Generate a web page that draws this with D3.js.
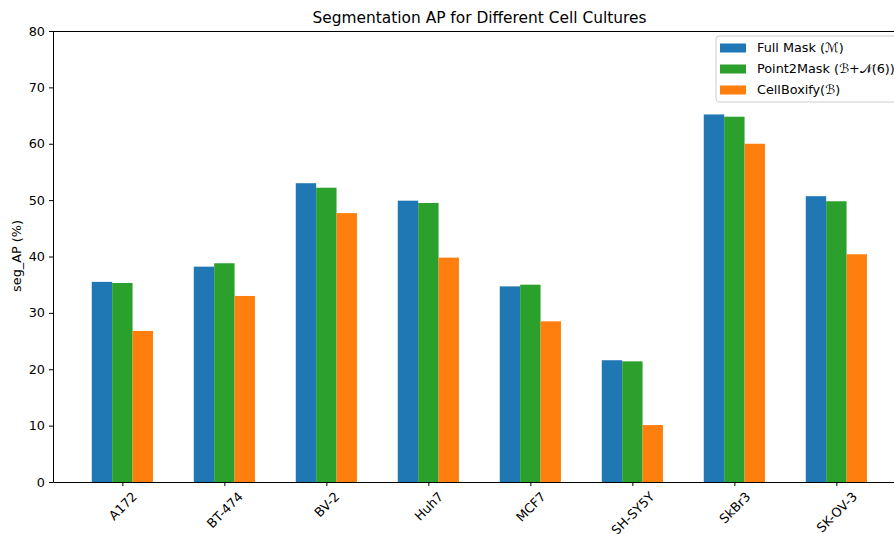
<!DOCTYPE html>
<html>
<head>
<meta charset="utf-8">
<script src="https://cdn.jsdelivr.net/npm/d3@7"></script>
<style>
  body { margin: 0; background: #fff; }
  svg { display: block; font-family: "DejaVu Sans", sans-serif; }
</style>
</head>
<body>
<svg id="chart" width="894" height="534"></svg>
<script>
// Cell cultures on the x axis
const cultures = ["A172", "BT-474", "BV-2", "Huh7", "MCF7", "SH-SY5Y", "SkBr3", "SK-OV-3"];
// Segmentation AP (%) for each training supervision
const fullMask   = [35.5, 38.2, 53.0, 49.9, 34.7, 21.6, 65.2, 50.7];
const point2Mask = [35.3, 38.8, 52.2, 49.5, 35.0, 21.4, 64.8, 49.8];
const cellBoxify = [26.8, 33.0, 47.7, 39.8, 28.5, 10.1, 60.0, 40.4];
const yTicks = [0, 10, 20, 30, 40, 50, 60, 70, 80];

const series = [
  { name: "Full Mask (\u2133)", values: fullMask, color: "#1f77b4" },
  { name: "Point2Mask (\u212C+\uD835\uDCA9(6))", values: point2Mask, color: "#2ca02c" },
  { name: "CellBoxify(\u212C)", values: cellBoxify, color: "#ff7f0e" }
];

const svg = d3.select("#chart");
const mLeft = 53, mTop = 31, mBottom = 482;
const barW = 0.2;
const fs = 12.8;

// Linear x scale over category indices, with bars offset inside each group
const x = d3.scaleLinear().domain([-0.68, 7.68]).range([mLeft, mLeft + 8.36 * 102]);
const y = d3.scaleLinear().domain([0, 80]).range([mBottom, mTop]);

// Bars
series.forEach((s, si) => {
  const off = (si - 1) * barW;
  svg.append("g").selectAll("rect").data(s.values).join("rect")
    .attr("x", (d, i) => x(i + off - barW / 2))
    .attr("width", x(barW) - x(0))
    .attr("y", d => y(d))
    .attr("height", d => y(0) - y(d))
    .attr("fill", s.color);
});

// Y axis
const yAxis = svg.append("g").attr("transform", `translate(${mLeft},0)`)
  .call(d3.axisLeft(y).tickValues(yTicks).tickSize(4).tickPadding(4));
yAxis.select(".domain").attr("stroke", "#000").attr("stroke-width", 1);
yAxis.selectAll(".tick line").attr("stroke", "#000");
yAxis.selectAll(".tick text").attr("font-size", fs).attr("fill", "#000")
  .attr("font-family", "DejaVu Sans");

// X axis
const xAxis = svg.append("g").attr("transform", `translate(0,${mBottom})`)
  .call(d3.axisBottom(x).tickValues(d3.range(cultures.length))
    .tickFormat(i => cultures[i]).tickSize(4).tickSizeOuter(0));
xAxis.select(".domain").attr("stroke", "#000");
xAxis.selectAll(".tick line").attr("stroke", "#000");
xAxis.selectAll(".tick text").each(function () {
  const t = d3.select(this);
  t.attr("font-size", fs).attr("font-family", "DejaVu Sans").attr("fill", "#000")
    .attr("text-anchor", "middle").attr("dy", "0.35em");
  const w = this.getComputedTextLength();
  const h = fs * 0.95;
  const cy = 4 + 4 + (w + h) / (2 * Math.SQRT2);
  t.attr("y", cy).attr("x", 0).attr("transform", `rotate(-45,0,${cy})`);
});

// Top spine
svg.append("line").attr("x1", mLeft).attr("x2", 894).attr("y1", mTop + 0.5).attr("y2", mTop + 0.5)
  .attr("stroke", "#000");

// Title and axis label
svg.append("text").attr("x", 479.5).attr("y", 23).attr("text-anchor", "middle")
  .attr("font-size", 15.4).text("Segmentation AP for Different Cell Cultures");
svg.append("text").attr("transform", "translate(21,256) rotate(-90)")
  .attr("text-anchor", "middle").attr("font-size", fs).text("seg_AP (%)");

// Legend
const lg = svg.append("g").attr("transform", "translate(716,36)");
lg.append("rect").attr("width", 190).attr("height", 66).attr("rx", 3)
  .attr("fill", "#fff").attr("fill-opacity", 0.8).attr("stroke", "#ccc");
series.forEach((s, i) => {
  const row = lg.append("g").attr("transform", `translate(4,${12 + i * 21})`);
  row.append("rect").attr("x", 0).attr("y", -4.5).attr("width", 26).attr("height", 9).attr("fill", s.color);
  row.append("text").attr("x", 37).attr("y", 0).attr("dy", "0.35em")
    .attr("font-size", fs).text(s.name);
});
</script>
</body>
</html>
